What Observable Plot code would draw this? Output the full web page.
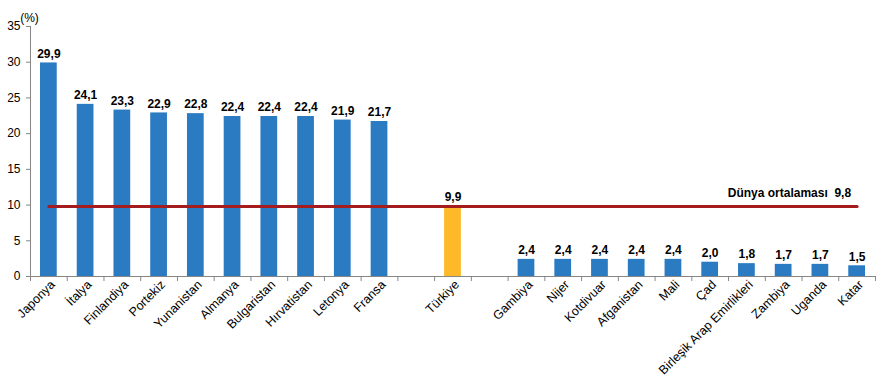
<!DOCTYPE html>
<html>
<head>
<meta charset="utf-8">
<script src="https://cdn.jsdelivr.net/npm/d3@7"></script>
<script src="https://cdn.jsdelivr.net/npm/@observablehq/plot@0.6"></script>
<style>
  body { margin: 0; background: #fff; }
  #chart { width: 883px; height: 381px; }
</style>
</head>
<body>
<div id="chart"></div>
<script>
const countries = ["Japonya", "İtalya", "Finlandiya", "Portekiz", "Yunanistan", "Almanya", "Bulgaristan", "Hırvatistan", "Letonya", "Fransa", "_gap1", "Türkiye", "_gap2", "Gambiya", "Nijer", "Kotdivuar", "Afganistan", "Mali", "Çad", "Birleşik Arap Emirlikleri", "Zambiya", "Uganda", "Katar"];
const values = [29.9, 24.1, 23.3, 22.9, 22.8, 22.4, 22.4, 22.4, 21.9, 21.7, null, 9.9, null, 2.4, 2.4, 2.4, 2.4, 2.4, 2.0, 1.8, 1.7, 1.7, 1.5];
const highlight = "Türkiye";
const worldAverage = 9.8;
const worldLabel = "Dünya ortalaması  9,8";
const yTicks = [0, 5, 10, 15, 20, 25, 30, 35];
const unitLabel = "(%)";

const data = countries.map((c, i) => ({name: c, value: values[i]})).filter(d => d.value != null);
const fmt = v => d3.format(".1f")(v).replace(".", ",");

const W = 883, H = 381, mL = 30, mR = 8, mT = 26, mB = 105;
const step = (W - mL - mR) / countries.length;
const font = "'Liberation Sans', Arial, sans-serif";
const axisColor = "#868686";

const chart = Plot.plot({
  width: W, height: H,
  marginLeft: mL, marginRight: mR, marginTop: mT, marginBottom: mB,
  style: {fontFamily: font, background: "#fff", color: "#000"},
  x: {domain: countries, padding: 0, round: false, axis: null},
  y: {domain: [0, 35], axis: null},
  marks: [
    Plot.barY(data, {x: "name", y: "value", fill: d => d.name === highlight ? "#FDB927" : "#2B7BC3", insetLeft: 10, insetRight: 10}),
    Plot.lineY([{x: countries[0], y: worldAverage}, {x: countries[countries.length - 1], y: worldAverage}], {x: "x", y: "y", stroke: "#A51C1F", strokeWidth: 3}),
    Plot.text([worldLabel], {x: () => countries[countries.length - 1], y: () => worldAverage, text: d => d, textAnchor: "end", dx: -6, dy: -13, fontSize: 12, fontWeight: "bold", fill: "#000"}),
    Plot.text(data, {x: "name", y: "value", text: d => fmt(d.value), dy: -9, fontSize: 12, fontWeight: "bold", fill: "#000"}),
    // y axis
    Plot.axisY({ticks: yTicks, tickSize: 4, tickPadding: 6, fontSize: 12, stroke: axisColor, fill: "#000", label: null}),
    Plot.frame({anchor: "left", stroke: axisColor}),
    Plot.ruleY([0], {stroke: axisColor}),
    // x tick marks at band boundaries
    Plot.axisX({ticks: countries, tickSize: 5, dx: step / 2, text: null, stroke: axisColor, label: null}),
    Plot.axisX({ticks: [countries[0]], tickSize: 5, dx: -step / 2, text: null, stroke: axisColor, label: null}),
    // x labels
    Plot.axisX({ticks: countries, tickSize: 0, tickPadding: 6, tickRotate: -45, fontSize: 12.5, fill: "#000", tickFormat: d => d.startsWith("_") ? "" : d, label: null, dx: 4}),
    Plot.text([unitLabel], {frameAnchor: "top-left", text: d => d, dx: -1, dy: -13, fontSize: 12, textAnchor: "middle", fill: "#000"})
  ]
});
document.getElementById("chart").appendChild(chart);
</script>
</body>
</html>
